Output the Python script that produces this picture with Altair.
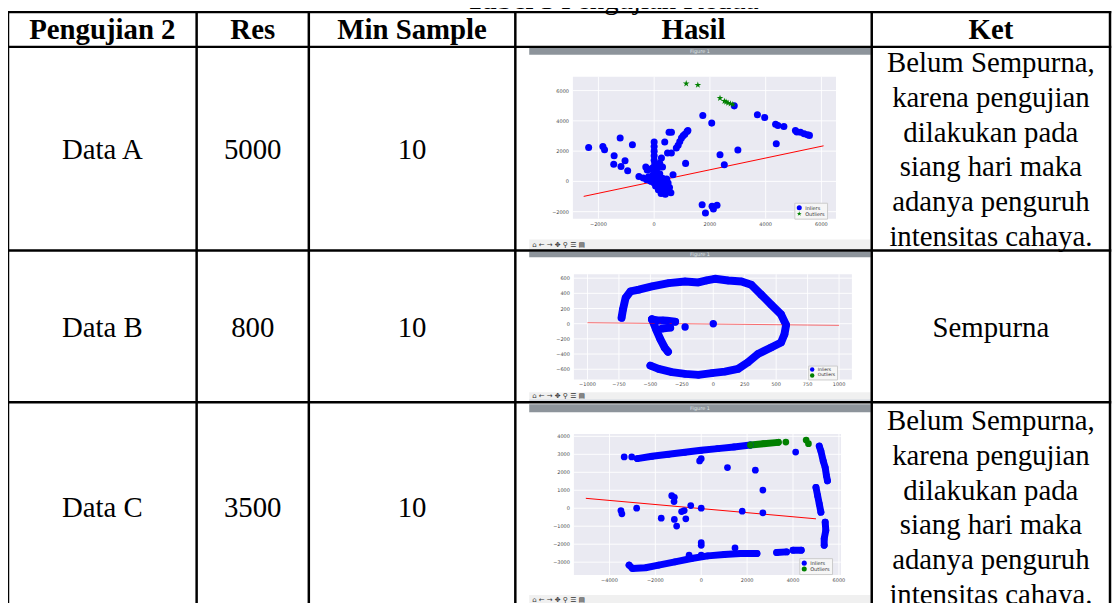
import altair as alt
import pandas as pd

# ---------------- table text ----------------
title_bold = "Tabel 5"
title_rest = "Pengujian Kedua"
headers = ["Pengujian 2", "Res", "Min Sample", "Hasil", "Ket"]
row_names = ["Data A", "Data B", "Data C"]
res_values = ["5000", "800", "3500"]
min_samples = ["10", "10", "10"]
ket_a = ["Belum Sempurna,", "karena pengujian", "dilakukan pada",
         "siang hari maka", "adanya penguruh", "intensitas cahaya."]
ket_b = ["Sempurna"]
ket_c = ["Belum Sempurna,", "karena pengujian", "dilakukan pada",
         "siang hari maka", "adanya penguruh", "intensitas cahaya."]
ket_lines = [ket_a, ket_b, ket_c]
legend_kinds = ["Inliers", "Outliers"]

# ---------------- plot A (Data A) ----------------
a_in_x = [-2350, -1840, -1780, -1436, -1220, -780, -1450, -1190, -1045, -950, -546, -390, -270, -150,
          0, 0, 0, 0, 0, 20, -50, -150, -250, -300, 50, 100, 0, 100,
          380, 534, 620, 617, 480, 261, 200, 300, 676,
          795, 860, 920, 980, 1040, 1100, 1180, 1210, 1128,
          100, 200, 300, 350, 450, 550, 600, 250, 400, 500, 150, 0, -100, 300, 450, 250, 400,
          50, 150, 350, 250, 500, -50, 100, 200, -200, 350,
          1745, 2065, 2362, 2516, 3003, 2873, 3703, 3965, 4356, 4440, 4654, 4380,
          5068, 5120, 5250, 5380, 5500, 5570,
          1721, 1840, 2077, 2125, 2255]
a_in_y = [2240, 2300, 2090, 1690, 2860, 2420, 1140, 990, 1360, 700, 330, 220, 110, 50,
          2600, 2300, 2000, 1700, 1400, 1150, 900, 800, 750, 950, 600, 850, 300, 100,
          2600, 3250, 3250, 1870, 1870, 1540, 1200, 950, 440,
          2200, 2390, 2640, 2860, 3010, 3120, 3300, 3360, 1190,
          -200, -350, -500, -700, -650, -400, -750, -800, -250, -100, -550, -100, 0, 200, 150, 0, -850,
          -300, -150, -350, -600, -550, 400, 400, 500, 300, -100,
          4350, 3850, 1760, 1100, 2070, 4990, 4400, 4220, 3780, 3690, 3630, 2480,
          3360, 3260, 3250, 3150, 3080, 3040,
          -1540, -2090, -1650, -1820, -1580]
a_out_x = [1150, 1567, 2362, 2520, 2580, 2650, 2740, 2820]
a_out_y = [6460, 6370, 5500, 5300, 5250, 5180, 5130, 5080]
a_line_x = [-2528, 6077]
a_line_y = [-990, 2350]
a_xticks = [-2000, 0, 2000, 4000, 6000]
a_yticks = [-2000, 0, 2000, 4000, 6000]

# ---------------- plot B (Data B) ----------------
b_ring_x = [-729, -718, -697, -658, -592, -487, -355, -224, -118, -53, 13, 118, 224, 302, 381, 460,
            539, 579, 566, 539, 460, 355, 276, 197, 92, -13, -118, -224, -329, -434, -500]
b_ring_y = [78, 187, 339, 426, 448, 492, 535, 557, 544, 570, 592, 570, 557, 513, 383, 252,
            122, -17, -139, -248, -313, -400, -509, -596, -631, -652, -674, -661, -639, -596, -552]
b_stem_x = [-487, -455, -421, -387, -360]
b_stem_y = [57, -74, -204, -313, -370]
b_arm_x = [-487, -447, -400, -368, -303]
b_arm_y = [57, 43, 43, 39, 26]
b_mid_x = [-408, -342]
b_mid_y = [-65, -52]
b_dot_x = [-224, 0]
b_dot_y = [-43, 0]
b_line_x = [-1000, 1000]
b_line_y = [13, -22]
b_xticks = [-1000, -750, -500, -250, 0, 250, 500, 750, 1000]
b_yticks = [-600, -400, -200, 0, 200, 400, 600]

# ---------------- plot C (Data C) ----------------
c_top_x = [-2786, -2144, -1429, -715, 0, 714, 1429, 2143]
c_top_y = [2763, 2892, 3002, 3113, 3224, 3316, 3408, 3518]
c_topg_x = [2143, 2715, 3358]
c_topg_y = [3518, 3592, 3666]
c_r1_x = [5144, 5216, 5316, 5402, 5459, 5502]
c_r1_y = [3459, 3183, 2631, 2263, 1803, 1527]
c_r2_x = [5001, 5073, 5144, 5216]
c_r2_y = [1159, 699, 239, -221]
c_r3_x = [5402, 5430, 5359, 5359]
c_r3_y = [-773, -1233, -1693, -2061]
c_bot_x = [-3144, -3001, -2429, -1858, -1143, -429, 286, 1000, 1715, 2429]
c_bot_y = [-3165, -3349, -3312, -3165, -2981, -2797, -2650, -2576, -2521, -2521]
c_b2_x = [3287, 3715]
c_b2_y = [-2466, -2429]
c_b3_x = [4001, 4358]
c_b3_y = [-2337, -2337]
c_in_x = [-3358, -3030, 4115, -529, 0, 0, 0, 1472, -71, 0, 1143, 2358, 2686, 1786, 2686,
          -3501, -3458, -2815, -1743, -1286, -1172, -1186, -857, -743, -457, 0, -1172, -672, -1072]
c_in_y = [2852, 2852, 3128, -2613, -2613, -2061, -1914, -2208, 2631, 2760, 2263, 2116, 1012, -166, -258,
          -129, -313, 0, -552, 699, 607, 368, -184, -129, 147, 0, -626, -589, -994]
c_out_x = [3687, 4573, 4673]
c_out_y = [3684, 3795, 3592]
c_line_x = [-5030, 5001]
c_line_y = [552, -589]
c_xticks = [-4000, -2000, 0, 2000, 4000, 6000]
c_yticks = [-3000, -2000, -1000, 0, 1000, 2000, 3000, 4000]

# ---------------- layout (pixels) ----------------
W, H = 1112, 595
COL = [0, 190, 303, 511, 870, 1110]
ROW = [2, 37, 242, 395, 605]
SERIF = "Liberation Serif"
SANS = "DejaVu Sans"
BLUE, GREEN = "#0000ff", "#008000"
STAR = ("M0,-1L0.2245,-0.309L0.9511,-0.309L0.3633,0.118L0.5878,0.809L0,0.382"
        "L-0.5878,0.809L-0.3633,0.118L-0.9511,-0.309L-0.2245,-0.309Z")

px = alt.Scale(domain=[0, W], range=[0, W])
py = alt.Scale(domain=[0, H], range=[0, H])


def pix(chart):
    return chart.encode(x=alt.X("x:Q", scale=px, axis=None), y=alt.Y("y:Q", scale=py, axis=None))


# window frames of the embedded screenshots
win_x0, win_x1 = 525, 869
frames = pd.DataFrame([
    dict(x=win_x0, x2=win_x1, y=37, y2=45, fill="#8d949b"),
    dict(x=win_x0, x2=win_x1, y=231, y2=242, fill="#f0f0f0"),
    dict(x=win_x0, x2=win_x1, y=243, y2=249, fill="#8d949b"),
    dict(x=win_x0, x2=win_x1, y=385, y2=392, fill="#f0f0f0"),
    dict(x=win_x0, x2=win_x1, y=392, y2=395, fill="#d9dde2"),
    dict(x=win_x0, x2=win_x1, y=397, y2=405, fill="#8d949b"),
    dict(x=win_x0, x2=win_x1, y=589, y2=600, fill="#f0f0f0"),
])
frame_layer = pix(alt.Chart(frames).mark_rect()).encode(
    x2="x2:Q", y2="y2:Q", color=alt.Color("fill:N", scale=None))

win_titles = pd.DataFrame({"x": [697, 697, 697], "y": [41, 246, 401], "t": ["Figure 1"] * 3})
win_title_layer = pix(alt.Chart(win_titles).mark_text(font=SANS, fontSize=5, color="#dfe3e6",
                                                      baseline="middle")).encode(text="t:N")
tool_icons = pd.DataFrame({"x": [528, 528, 528], "y": [236.5, 388.5, 594.5],
                           "t": ["⌂ ← →  ✥ ⚲ ☰  ▤"] * 3})
tool_layer = pix(alt.Chart(tool_icons).mark_text(font=SANS, fontSize=7, color="#333333",
                                                 align="left", baseline="middle")).encode(text="t:N")


def subplot(xdom, ydom, area, xt, yt, pts_in, pts_out, tracks_blue, tracks_green,
            line, line_opacity, out_shape, leg_xy, psize, twidth, leg_sym):
    sx = alt.Scale(domain=xdom, range=[area[0], area[1]], nice=False, zero=False)
    sy = alt.Scale(domain=ydom, range=[area[3], area[2]], nice=False, zero=False)
    one = pd.DataFrame({"k": [0]})
    layers = []
    layers.append(alt.Chart(one).mark_rect(color="#eaeaf2").encode(
        x=alt.XDatum(xdom[0], scale=sx, axis=None), x2=alt.X2Datum(xdom[1]),
        y=alt.YDatum(ydom[0], scale=sy, axis=None), y2=alt.Y2Datum(ydom[1])))
    dxt = pd.DataFrame({"v": xt, "lab": [str(v).replace("-", "−") for v in xt]})
    dyt = pd.DataFrame({"v": yt, "lab": [str(v).replace("-", "−") for v in yt]})
    layers.append(alt.Chart(dxt).mark_rule(color="white", strokeWidth=0.9).encode(
        x=alt.X("v:Q", scale=sx, axis=None),
        y=alt.YDatum(ydom[0], scale=sy, axis=None), y2=alt.Y2Datum(ydom[1])))
    layers.append(alt.Chart(dyt).mark_rule(color="white", strokeWidth=0.9).encode(
        y=alt.Y("v:Q", scale=sy, axis=None),
        x=alt.XDatum(xdom[0], scale=sx, axis=None), x2=alt.X2Datum(xdom[1])))
    layers.append(alt.Chart(dxt).mark_text(font=SANS, fontSize=5, color="#4a4a4a",
                                           baseline="top", dy=3).encode(
        x=alt.X("v:Q", scale=sx, axis=None),
        y=alt.YDatum(ydom[0], scale=sy, axis=None), text="lab:N"))
    layers.append(alt.Chart(dyt).mark_text(font=SANS, fontSize=5, color="#4a4a4a",
                                           align="right", baseline="middle", dx=-4).encode(
        y=alt.Y("v:Q", scale=sy, axis=None),
        x=alt.XDatum(xdom[0], scale=sx, axis=None), text="lab:N"))

    def track_df(segs):
        rows = []
        for s, (xs, ys) in enumerate(segs):
            for i, (xv, yv) in enumerate(zip(xs, ys)):
                rows.append(dict(seg=s, i=i, x=xv, y=yv))
        return pd.DataFrame(rows)

    for segs, col in ((tracks_blue, BLUE), (tracks_green, GREEN)):
        if segs:
            layers.append(alt.Chart(track_df(segs)).mark_line(
                color=col, strokeWidth=twidth, strokeCap="round", strokeJoin="round").encode(
                x=alt.X("x:Q", scale=sx, axis=None), y=alt.Y("y:Q", scale=sy, axis=None),
                detail="seg:N", order="i:Q"))

    dl = pd.DataFrame({"x": line[0], "y": line[1]})
    layers.append(alt.Chart(dl).mark_line(color="#ff0000", strokeWidth=1,
                                          opacity=line_opacity).encode(
        x=alt.X("x:Q", scale=sx, axis=None), y=alt.Y("y:Q", scale=sy, axis=None)))

    allx, ally, kinds = [], [], []
    for segs in tracks_blue:
        allx += list(segs[0]); ally += list(segs[1]); kinds += ["Inliers"] * len(segs[0])
    allx += list(pts_in[0]); ally += list(pts_in[1]); kinds += ["Inliers"] * len(pts_in[0])
    for segs in tracks_green:
        allx += list(segs[0]); ally += list(segs[1]); kinds += ["Outliers"] * len(segs[0])
    allx += list(pts_out[0]); ally += list(pts_out[1]); kinds += ["Outliers"] * len(pts_out[0])
    dp = pd.DataFrame({"x": allx, "y": ally, "kind": kinds})
    leg = alt.Legend(title=None, orient="none", legendX=leg_xy[0], legendY=leg_xy[1],
                     labelFont=SANS, labelFontSize=leg_sym[1], labelColor="#333333",
                     symbolSize=leg_sym[0], padding=leg_sym[2], rowPadding=0, labelOffset=3,
                     fillColor="#f6f6f6", strokeColor="#cccccc", symbolStrokeWidth=0,
                     symbolOpacity=1)
    layers.append(alt.Chart(dp).mark_point(filled=True, size=psize, opacity=1, strokeWidth=0).encode(
        x=alt.X("x:Q", scale=sx, axis=None), y=alt.Y("y:Q", scale=sy, axis=None),
        color=alt.Color("kind:N", scale=alt.Scale(domain=legend_kinds, range=[BLUE, GREEN]), legend=leg),
        shape=alt.Shape("kind:N", scale=alt.Scale(domain=legend_kinds, range=["circle", out_shape]),
                        legend=leg)))
    return alt.layer(*layers)


plot_a = subplot([-2915, 6523], [-2460, 6920], (569, 834, 67, 210), a_xticks, a_yticks,
                 (a_in_x, a_in_y), (a_out_x, a_out_y), [], [],
                 (a_line_x, a_line_y), 1.0, STAR, (792, 194), 50, 7, (26, 5, 2))
plot_b = subplot([-1108, 1102], [-735, 652], (570, 850, 266, 372), b_xticks, b_yticks,
                 (b_dot_x, b_dot_y), ([], []),
                 [(b_ring_x, b_ring_y), (b_stem_x, b_stem_y), (b_arm_x, b_arm_y), (b_mid_x, b_mid_y)], [],
                 (b_line_x, b_line_y), 0.55, "circle", (806, 358), 55, 8, (20, 4.5, 1.5))
plot_c = subplot([-5550, 6090], [-3718, 4127], (570, 839, 427, 569), c_xticks, c_yticks,
                 (c_in_x, c_in_y), (c_out_x, c_out_y),
                 [(c_top_x, c_top_y), (c_r1_x, c_r1_y), (c_r2_x, c_r2_y), (c_r3_x, c_r3_y),
                  (c_bot_x, c_bot_y), (c_b2_x, c_b2_y), (c_b3_x, c_b3_y)],
                 [(c_topg_x, c_topg_y)],
                 (c_line_x, c_line_y), 1.0, "circle", (797, 552), 46, 7, (26, 5, 2))

# ---------------- table grid ----------------
lines = []
for cx in COL:
    lines.append(dict(x=cx, x2=cx, y=ROW[0], y2=ROW[-1]))
for ry in ROW:
    lines.append(dict(x=COL[0], x2=COL[-1], y=ry, y2=ry))
grid_layer = pix(alt.Chart(pd.DataFrame(lines)).mark_rule(
    color="black", strokeWidth=2.5, strokeCap="square")).encode(x2="x2:Q", y2="y2:Q")

# ---------------- table text ----------------
cmid = [(COL[i] + COL[i + 1]) / 2 for i in range(5)]
rmid = [(ROW[i] + ROW[i + 1]) / 2 for i in range(1, 4)]
LH = 35
head_df = pd.DataFrame({"x": cmid, "y": [29] * 5, "t": headers})
body = []
for r in range(3):
    base = rmid[r] + 10.5
    body.append(dict(x=cmid[0], y=base, t=row_names[r]))
    body.append(dict(x=cmid[1], y=base, t=res_values[r]))
    body.append(dict(x=cmid[2], y=base, t=min_samples[r]))
    n = len(ket_lines[r])
    for i, s in enumerate(ket_lines[r]):
        body.append(dict(x=cmid[4], y=base + (i - (n - 1) / 2) * LH, t=s))
body_df = pd.DataFrame(body)

head_layer = pix(alt.Chart(head_df).mark_text(font=SERIF, fontSize=29, fontWeight="bold",
                                              color="black", baseline="alphabetic")).encode(text="t:N")
body_layer = pix(alt.Chart(body_df).mark_text(font=SERIF, fontSize=29, color="black",
                                              baseline="alphabetic")).encode(text="t:N")
title_df_b = pd.DataFrame({"x": [551], "y": [-1], "t": [title_bold]})
title_df_r = pd.DataFrame({"x": [557], "y": [-1], "t": [title_rest]})
title_b = pix(alt.Chart(title_df_b).mark_text(font=SERIF, fontSize=29, fontWeight="bold",
                                              align="right", baseline="alphabetic")).encode(text="t:N")
title_r = pix(alt.Chart(title_df_r).mark_text(font=SERIF, fontSize=29,
                                              align="left", baseline="alphabetic")).encode(text="t:N")

chart = alt.layer(
    frame_layer, win_title_layer, tool_layer,
    plot_a, plot_b, plot_c,
    grid_layer, head_layer, body_layer, title_b, title_r,
).resolve_scale(
    x="independent", y="independent", color="independent", shape="independent"
).properties(
    width=W, height=H, padding=0, autosize=alt.AutoSizeParams(type="none"), background="white"
).configure_view(stroke=None)

chart.save("out.html", embed_options={"renderer": "svg", "actions": False})
